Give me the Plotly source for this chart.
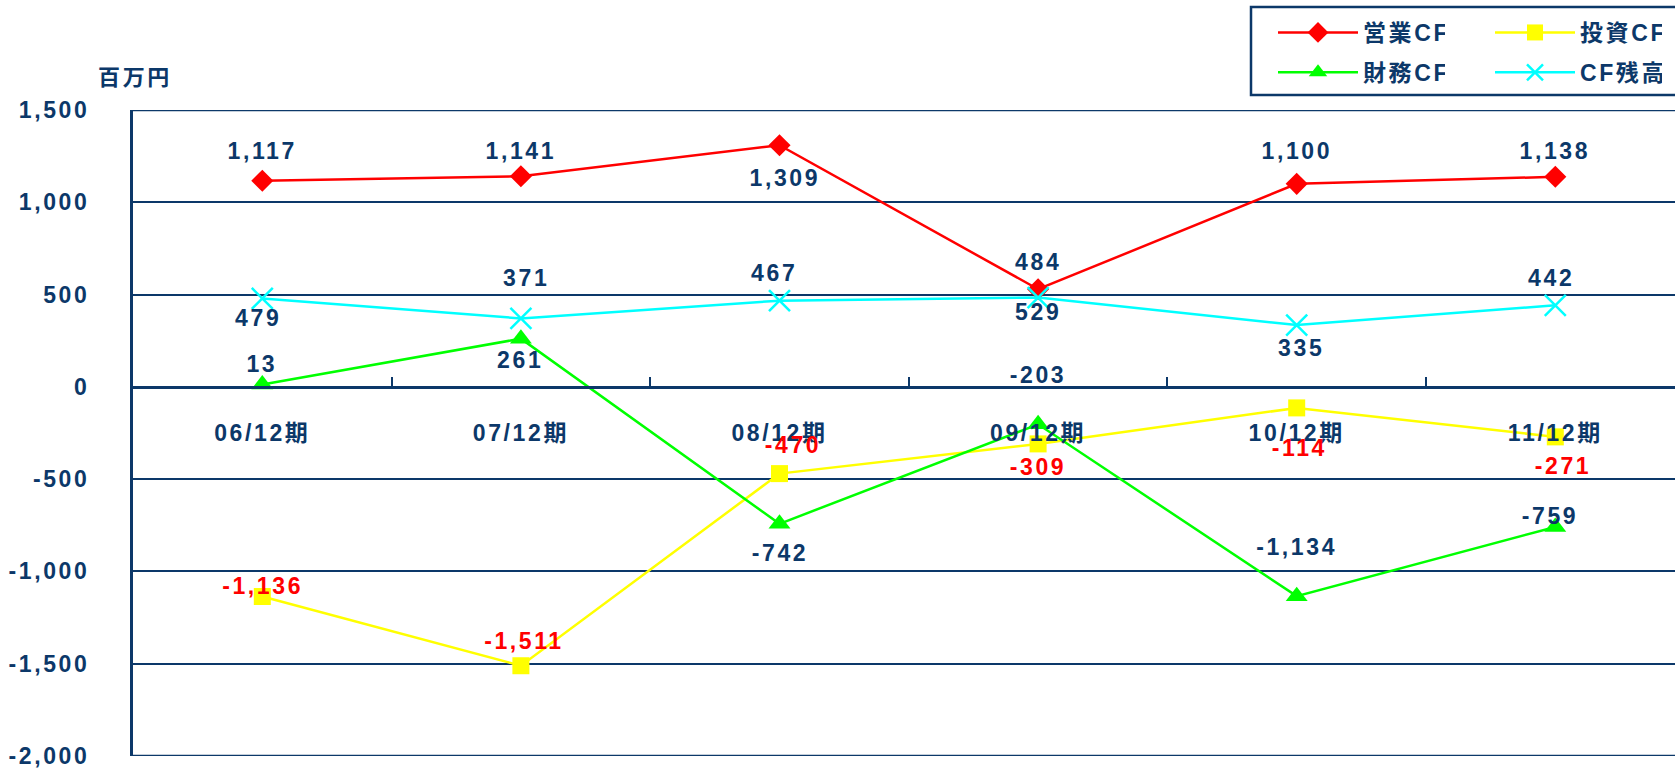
import plotly.graph_objects as go

# ---------------- data ----------------
categories = ["06/12期", "07/12期", "08/12期", "09/12期", "10/12期", "11/12期"]
op_cf = [1117, 1141, 1309, 529, 1100, 1138]          # 営業CF
inv_cf = [-1136, -1511, -470, -309, -114, -271]      # 投資CF
fin_cf = [13, 261, -742, -203, -1134, -759]          # 財務CF
cf_bal = [479, 371, 467, 484, 335, 442]              # CF残高

y_tick_vals = [1500, 1000, 500, 0, -500, -1000, -1500, -2000]
y_tick_text = ["1,500", "1,000", "500", "0", "-500", "-1,000", "-1,500", "-2,000"]

# label offsets in pixels (positions, kept apart from data)
op_shift = [(0, 30), (0, 25), (5, -33), (0, -23), (0, 33), (0, 26)]
bal_shift = [(-4, -20), (6, 40), (-6, 28), (0, 36), (5, -23), (-4, 27)]
fin_shift = [(0, 20), (0, -21), (0, -29), (0, 49), (0, 49), (-5, 11)]
inv_shift = [(0, 11), (3, 25), (13, 29), (0, -23), (3, -40), (8, -29)]

NAVY = "#0c3869"
FONT = "Liberation Sans, Arial, Noto Sans CJK JP, sans-serif"
FS = 23

W, H = 1675, 770
L, T, B = 133, 110, 14
plot_w = W - L
plot_h = H - T - B
cat_px = 258.6

fig = go.Figure()

series = [
    ("営業CF", op_cf, "#ff0000", dict(symbol="diamond", size=17), "legend", op_shift, NAVY),
    ("投資CF", inv_cf, "#ffff00", dict(symbol="square", size=17), "legend2", inv_shift, "#ff0000"),
    ("財務CF", fin_cf, "#00ff00", dict(symbol="triangle-up", size=19), "legend", fin_shift, NAVY),
    ("CF残高", cf_bal, "#00ffff", dict(symbol="x-thin", size=21, line=dict(width=2.5, color="#00ffff")), "legend2", bal_shift, NAVY),
]

annotations = []
for name, vals, color, marker, leg, shifts, lcolor in series:
    fig.add_trace(go.Scatter(
        x=categories, y=vals, name=name, mode="lines+markers",
        line=dict(color=color, width=2.5),
        marker=dict(color=color, **marker),
        legend=leg, legendgroup=name,
    ))
    for c, v, (dx, dy) in zip(categories, vals, shifts):
        annotations.append(dict(
            x=c, y=v, xref="x", yref="y", text=f"{v:,}", showarrow=False,
            xshift=dx, yshift=dy, yanchor="middle", xanchor="center",
            font=dict(family=FONT, size=FS, color=lcolor, weight="bold"),
        ))

annotations.append(dict(
    x=(135 - L) / plot_w, y=(H - B - 77) / plot_h, xref="paper", yref="paper", text="百万円",
    showarrow=False, xanchor="center", yanchor="middle",
    font=dict(family=FONT, size=22, color=NAVY, weight="bold"),
))

legend_common = dict(
    xref="container", yref="container", xanchor="left", yanchor="top",
    bgcolor="rgba(0,0,0,0)", font=dict(family=FONT, size=FS, color=NAVY, weight="bold"),
    tracegroupgap=7, itemwidth=80,
)

# edge grid lines (top and bottom of the value range)
edge_lines = [
    dict(type="line", xref="paper", yref="y", x0=0, x1=1, y0=yv, y1=yv,
         line=dict(color=NAVY, width=2.5), layer="below")
    for yv in (max(y_tick_vals), min(y_tick_vals))
]

fig.update_layout(
    width=W, height=H,
    margin=dict(l=L, r=0, t=T, b=B, autoexpand=False),
    plot_bgcolor="white", paper_bgcolor="white",
    font=dict(family=FONT, size=FS, color=NAVY, weight="bold"),
    showlegend=True,
    legend=dict(x=1273 / W, y=1 - 11 / H, **legend_common),
    legend2=dict(x=1490 / W, y=1 - 11 / H, **legend_common),
    xaxis=dict(
        type="category", range=[-0.5, -0.5 + plot_w / cat_px],
        anchor="free", position=2000 / 3500,
        showline=True, linecolor=NAVY, linewidth=2.5,
        showgrid=False, zeroline=False,
        tickson="boundaries", ticks="inside", ticklen=9, tickwidth=2, tickcolor=NAVY,
        ticklabelstandoff=25,
        tickfont=dict(family=FONT, size=FS, color=NAVY, weight="bold"),
    ),
    yaxis=dict(
        range=[-2000, 1500], tickvals=y_tick_vals, ticktext=y_tick_text,
        showline=True, linecolor=NAVY, linewidth=3,
        showgrid=True, gridcolor=NAVY, gridwidth=2, zeroline=False,
        ticks="", ticklabelstandoff=36,
        tickfont=dict(family=FONT, size=FS, color=NAVY, weight="bold"),
    ),
    annotations=annotations,
    shapes=edge_lines + [dict(
        type="rect", xref="paper", yref="paper",
        x0=(1251 - L) / plot_w, x1=(1690 - L) / plot_w,
        y0=(H - B - 95) / plot_h, y1=(H - B - 7) / plot_h,
        line=dict(color=NAVY, width=2.5), fillcolor="rgba(0,0,0,0)", layer="above",
    )],
)

page_js = (
    "var s=document.createElement('style');"
    "s.innerHTML='html,body{margin:0;padding:0;overflow:hidden;}"
    ".js-plotly-plot .main-svg text{letter-spacing:2.6px;}';"
    "document.head.appendChild(s);"
)
fig.write_html("out.html", post_script=page_js, config={"displayModeBar": False})
